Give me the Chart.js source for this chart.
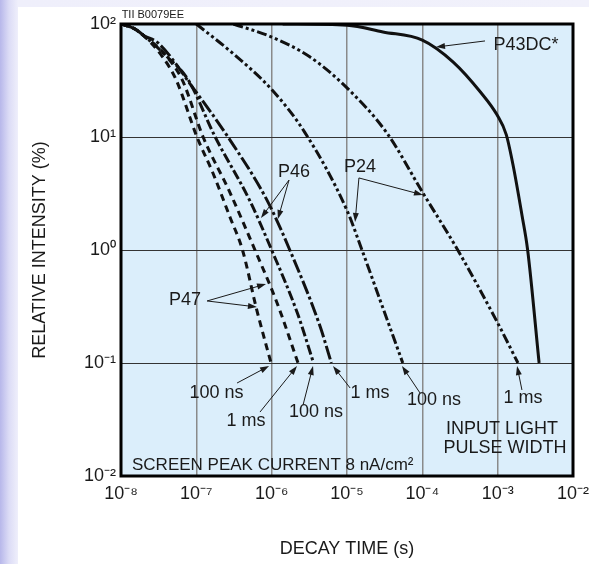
<!DOCTYPE html>
<html>
<head>
<meta charset="utf-8">
<title>Phosphor decay time</title>
<script src="https://cdn.jsdelivr.net/npm/chart.js@4.4.1/dist/chart.umd.min.js"></script>
<style>
    html, body { margin: 0; padding: 0; }
    body {
        width: 589px;
        height: 564px;
        position: relative;
        overflow: hidden;
        background: linear-gradient(to right, #b7b7ea 0px, #dcdcf6 9px, #efeffb 18px, #f1f1fb 100%);
    }
    #sheet { position: absolute; left: 18px; top: 7px; width: 571px; height: 557px; background: #fff; }
    canvas { position: absolute; left: 0; top: 0; }
</style>
</head>
<body>
<div id="sheet"></div>
<canvas id="decayChart" width="589" height="564"></canvas>
<script>
// Decay curves: time (s) and relative intensity (%)
const P47_100NS_T = [1e-8, 1.5e-8, 2.0e-8, 3.5e-8, 5.4e-8, 1.02e-7, 1.66e-7, 2.8e-7, 4.1e-7, 6.3e-7, 9.8e-7];
const P47_100NS_I = [100, 91, 79, 52, 32, 10, 4.8, 1.95, 1.0, 0.30, 0.1];

const P47_1MS_T = [1e-8, 1.5e-8, 2.0e-8, 3.8e-8, 6.5e-8, 1.23e-7, 2.75e-7, 6.0e-7, 1.18e-6, 2.24e-6];
const P47_1MS_I = [100, 91, 79, 54, 32, 10, 3.3, 1.0, 0.34, 0.1];

const P46_100NS_T = [1e-8, 1.5e-8, 2.0e-8, 4.0e-8, 7.8e-8, 1.78e-7, 5.1e-7, 1.0e-6, 2.2e-6, 3.6e-6];
const P46_100NS_I = [100, 91, 79, 52, 32, 10, 2.75, 1.0, 0.275, 0.1];

const P46_1MS_T = [1e-8, 1.5e-8, 2.0e-8, 3.1e-8, 9.5e-8, 2.63e-7, 8.7e-7, 1.74e-6, 4.4e-6, 6.2e-6];
const P46_1MS_I = [100, 91, 79, 68, 26, 10, 2.75, 1.0, 0.21, 0.1];

const P24_100NS_T = [1e-7, 2.95e-7, 1.0e-6, 2.75e-6, 1.0e-5, 1.58e-5, 2.75e-5, 5.5e-5];
const P24_100NS_I = [100, 56, 26.3, 11, 2.24, 1.0, 0.36, 0.1];

const P24_1MS_T = [3.1e-7, 1.0e-6, 3.24e-6, 1.0e-5, 3.4e-5, 1.02e-4, 2.95e-4, 1.0e-3, 1.86e-3];
const P24_1MS_I = [100, 76.7, 51, 27.2, 10.8, 3.19, 1.0, 0.226, 0.1];

const P43DC_T = [1.4e-6, 1.0e-5, 3.0e-5, 1.0e-4, 2.57e-4, 5.9e-4, 9.8e-4, 1.3e-3, 1.6e-3, 2.1e-3, 2.5e-3, 3.55e-3];
const P43DC_I = [100, 97.7, 85, 72, 46, 25, 15.7, 10.5, 5.65, 2.04, 1.0, 0.1];

// Axis ticks
const X_TICKS = [1e-8, 1e-7, 1e-6, 1e-5, 1e-4, 1e-3, 1e-2];
const X_TICK_LABELS = ['10⁻⁸', '10⁻⁷', '10⁻⁶', '10⁻⁵', '10⁻⁴', '10⁻³', '10⁻²'];
const Y_TICKS = [1e-2, 1e-1, 1, 10, 100];
const Y_TICK_LABELS = ['10⁻²', '10⁻¹', '10⁰', '10¹', '10²'];

// Callout texts, placed in data coordinates
const NOTE_TEXT = ['P43DC*', 'P24', 'P46', 'P47', '100 ns', '1 ms', '100 ns', '1 ms', '100 ns', '1 ms', 'INPUT LIGHT', 'PULSE WIDTH'];
const NOTE_X = [2.38e-3, 1.49e-5, 1.98e-6, 7.08e-8, 1.85e-7, 4.56e-7, 3.87e-6, 2.02e-5, 1.43e-4, 2.17e-3, 1.14e-3, 1.25e-3];
const NOTE_Y = [65.2, 5.43, 4.9, 0.361, 0.0543, 0.0307, 0.0368, 0.0543, 0.0471, 0.049, 0.0261, 0.0177];

// Leader arrows: from label towards the curve
const ARROW_FROM_X = [6.79e-4, 1.44e-5, 1.44e-5, 1.70e-6, 1.70e-6, 1.39e-7, 1.39e-7, 3.47e-7, 7.0e-7, 2.61e-6, 1.10e-5, 9.31e-5, 2.10e-3];
const ARROW_FROM_Y = [70.8, 4.34, 4.34, 4.16, 4.16, 0.354, 0.354, 0.0665, 0.0368, 0.0425, 0.0601, 0.0543, 0.0577];
const ARROW_TO_X = [1.52e-4, 1.28e-5, 1.02e-4, 7.21e-7, 1.21e-6, 8.41e-7, 6.38e-7, 9.23e-7, 2.17e-6, 3.54e-6, 6.52e-6, 5.37e-5, 1.81e-3];
const ARROW_TO_Y = [62.5, 1.77, 3.07, 1.92, 1.88, 0.5, 0.313, 0.094, 0.094, 0.094, 0.094, 0.094, 0.094];

const FONT = "'Liberation Sans', Arial, Helvetica, sans-serif";
const INK = '#1a1a1a';

function toPoints(times, values) {
    return times.map((t, k) => ({ x: t, y: values[k] }));
}

function curve(label, times, values, dash) {
    return {
        label: label,
        data: toPoints(times, values),
        borderColor: '#111',
        borderWidth: 3,
        borderDash: dash,
        borderCapStyle: 'butt',
        pointRadius: 0,
        fill: false,
        cubicInterpolationMode: 'monotone'
    };
}

// Plot background, frame and callouts
const decorPlugin = {
    id: 'decor',
    beforeDatasetsDraw(chart) {
        const { ctx, chartArea: a } = chart;
        ctx.save();
        ctx.globalCompositeOperation = 'destination-over';
        ctx.fillStyle = '#dbeefb';
        ctx.fillRect(a.left, a.top, a.right - a.left, a.bottom - a.top);
        ctx.restore();
    },
    afterDatasetsDraw(chart) {
        const { ctx, chartArea: a, scales } = chart;
        const px = v => scales.x.getPixelForValue(v);
        const py = v => scales.y.getPixelForValue(v);

        ctx.save();
        // frame
        ctx.strokeStyle = '#000';
        ctx.lineWidth = 3;
        ctx.strokeRect(a.left, a.top, a.right - a.left, a.bottom - a.top);

        // arrows
        ctx.strokeStyle = INK;
        ctx.fillStyle = INK;
        ctx.lineWidth = 1;
        ARROW_FROM_X.forEach((fx, k) => {
            const x0 = px(fx), y0 = py(ARROW_FROM_Y[k]);
            const x1 = px(ARROW_TO_X[k]), y1 = py(ARROW_TO_Y[k]);
            const ang = Math.atan2(y1 - y0, x1 - x0);
            const len = 9, half = 3;
            ctx.beginPath();
            ctx.moveTo(x0, y0);
            ctx.lineTo(x1 - Math.cos(ang) * len * 0.8, y1 - Math.sin(ang) * len * 0.8);
            ctx.stroke();
            ctx.beginPath();
            ctx.moveTo(x1, y1);
            ctx.lineTo(x1 - Math.cos(ang) * len - Math.sin(ang) * half, y1 - Math.sin(ang) * len + Math.cos(ang) * half);
            ctx.lineTo(x1 - Math.cos(ang) * len + Math.sin(ang) * half, y1 - Math.sin(ang) * len - Math.cos(ang) * half);
            ctx.closePath();
            ctx.fill();
        });

        // labels
        ctx.fillStyle = INK;
        ctx.textBaseline = 'middle';
        ctx.textAlign = 'center';
        ctx.font = '18px ' + FONT;
        NOTE_TEXT.forEach((txt, k) => {
            ctx.fillText(txt, px(NOTE_X[k]), py(NOTE_Y[k]));
        });

        ctx.textAlign = 'left';
        ctx.font = '17px ' + FONT;
        ctx.fillText('SCREEN PEAK CURRENT 8 nA/cm²', px(1.40e-8), py(0.0125));

        ctx.font = '11px ' + FONT;
        ctx.fillText('TII B0079EE', px(1.02e-8), py(120));
        ctx.restore();
    }
};

const chart = new Chart(document.getElementById('decayChart'), {
    type: 'line',
    data: {
        datasets: [
            curve('P47 100 ns', P47_100NS_T, P47_100NS_I, [7, 5]),
            curve('P47 1 ms', P47_1MS_T, P47_1MS_I, [7, 5]),
            curve('P46 100 ns', P46_100NS_T, P46_100NS_I, [10, 3, 3, 3]),
            curve('P46 1 ms', P46_1MS_T, P46_1MS_I, [14, 3, 3, 3]),
            curve('P24 100 ns', P24_100NS_T, P24_100NS_I, [10, 3, 3, 3, 3, 3]),
            curve('P24 1 ms', P24_1MS_T, P24_1MS_I, [10, 3, 3, 3, 3, 3]),
            curve('P43DC*', P43DC_T, P43DC_I, [])
        ]
    },
    options: {
        responsive: false,
        animation: false,
        devicePixelRatio: 1,
        layout: { padding: { left: 18, top: 24, right: 16, bottom: 0 } },
        plugins: {
            legend: { display: false },
            tooltip: { enabled: false }
        },
        scales: {
            x: {
                type: 'logarithmic',
                min: 1e-8,
                max: 1e-2,
                afterBuildTicks: s => { s.ticks = X_TICKS.map(v => ({ value: v })); },
                afterFit: s => { s.height = 88; s.paddingLeft = 0; s.paddingRight = 0; },
                border: { display: false },
                grid: { color: '#8a8a8a', lineWidth: 1.5, drawTicks: false },
                ticks: {
                    autoSkip: false,
                    maxRotation: 0,
                    padding: 7,
                    color: INK,
                    font: { family: FONT, size: 18 },
                    callback: (v, idx) => X_TICK_LABELS[idx]
                },
                title: {
                    display: true,
                    text: 'DECAY TIME (s)',
                    color: INK,
                    font: { family: FONT, size: 18 },
                    padding: { top: 0, bottom: 4 }
                }
            },
            y: {
                type: 'logarithmic',
                min: 1e-2,
                max: 1e2,
                afterBuildTicks: s => { s.ticks = Y_TICKS.map(v => ({ value: v })); },
                afterFit: s => { s.width = 103; s.paddingTop = 0; s.paddingBottom = 0; },
                border: { display: false },
                grid: { color: '#333', lineWidth: 1, drawTicks: false },
                ticks: {
                    autoSkip: false,
                    padding: 5,
                    color: INK,
                    font: { family: FONT, size: 18 },
                    callback: (v, idx) => Y_TICK_LABELS[idx]
                },
                title: {
                    display: true,
                    text: 'RELATIVE INTENSITY (%)',
                    color: INK,
                    font: { family: FONT, size: 18 },
                    padding: { top: 11, bottom: 0 }
                }
            }
        }
    },
    plugins: [decorPlugin]
});
</script>
</body>
</html>
